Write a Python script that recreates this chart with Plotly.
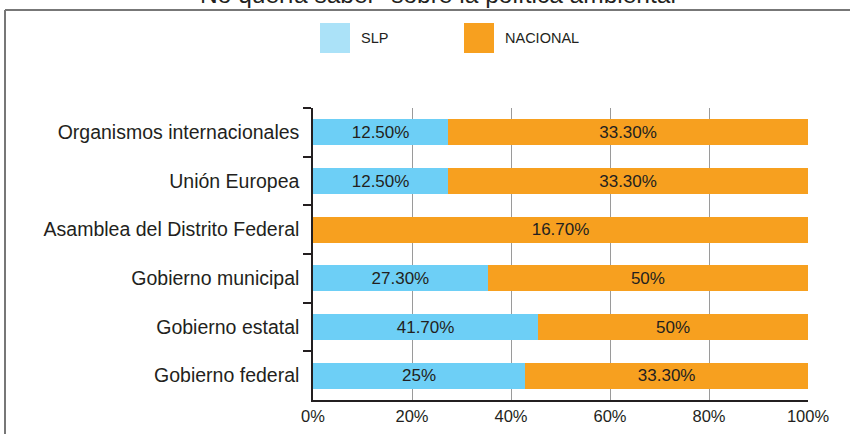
import plotly.graph_objects as go

categories = ["Organismos internacionales", "Unión Europea", "Asamblea del Distrito Federal",
              "Gobierno municipal", "Gobierno estatal", "Gobierno federal"]
slp = [12.5, 12.5, 0, 27.3, 41.7, 25]
nacional = [33.3, 33.3, 16.7, 50, 50, 33.3]
tick_vals = [0, 20, 40, 60, 80, 100]
tick_text = ["0%", "20%", "40%", "60%", "80%", "100%"]
title_text = 'No quería saber" sobre la política ambiental'


def fmt(v):
    if v == 0:
        return ""
    if float(v).is_integer():
        return f"{int(v)}%"
    return f"{v:.2f}%"


FONT = "Liberation Sans, Arial, Helvetica, sans-serif"
SLP_C = "#6dcff6"
NAC_C = "#f7a01f"
TXT = "#231f20"

fig = go.Figure()
fig.add_trace(go.Bar(y=categories, x=slp, orientation="h", name="SLP",
                     marker=dict(color=SLP_C, line=dict(width=0)),
                     text=[fmt(v) for v in slp], textposition="inside",
                     insidetextanchor="middle", constraintext="none",
                     textfont=dict(family=FONT, size=17, color=TXT)))
fig.add_trace(go.Bar(y=categories, x=nacional, orientation="h", name="NACIONAL",
                     marker=dict(color=NAC_C, line=dict(width=0)),
                     text=[fmt(v) for v in nacional], textposition="inside",
                     insidetextanchor="middle", constraintext="none",
                     textfont=dict(family=FONT, size=17, color=TXT)))

L, R, T, B = 313, 42, 108, 34
W, H = 850, 434
pw, ph = W - L - R, H - T - B


def px(x):
    return (x - L) / pw


def py(y):
    return (H - B - y) / ph


shapes = [
    # frame
    dict(type="line", xref="paper", yref="paper", x0=px(5), x1=px(851), y0=py(10), y1=py(10),
         line=dict(color="#777777", width=2)),
    dict(type="line", xref="paper", yref="paper", x0=px(5), x1=px(5), y0=py(10), y1=py(440),
         line=dict(color="#777777", width=2)),
    # legend swatches
    dict(type="rect", xref="paper", yref="paper", x0=px(320), x1=px(350), y0=py(53), y1=py(23),
         fillcolor="#abe2f8", line=dict(width=0)),
    dict(type="rect", xref="paper", yref="paper", x0=px(464), x1=px(494), y0=py(53), y1=py(23),
         fillcolor=NAC_C, line=dict(width=0)),
]
annotations = [
    dict(xref="paper", yref="paper", x=px(359), y=py(38), text="SLP", showarrow=False,
         xanchor="left", yanchor="middle", font=dict(family=FONT, size=14.5, color=TXT)),
    dict(xref="paper", yref="paper", x=px(503), y=py(38), text="NACIONAL", showarrow=False,
         xanchor="left", yanchor="middle", font=dict(family=FONT, size=14.5, color=TXT)),
    dict(xref="paper", yref="paper", x=px(438), y=py(-5), text=title_text, showarrow=False,
         xanchor="center", yanchor="middle", font=dict(family=FONT, size=24.5, color=TXT)),
]

fig.update_layout(
    width=W, height=H,
    margin=dict(l=L, r=R, t=T, b=B, pad=0, autoexpand=False),
    barmode="stack", barnorm="percent", bargap=0.47,
    showlegend=False,
    plot_bgcolor="white", paper_bgcolor="white",
    shapes=shapes, annotations=annotations,
    xaxis=dict(range=[0, 100], tickvals=tick_vals, ticktext=tick_text,
               showgrid=True, gridcolor="#9a9a9a", gridwidth=1,
               showline=True, linecolor="#231f20", linewidth=1.5,
               ticks="", zeroline=False, fixedrange=True, automargin=False,
               tickfont=dict(family=FONT, size=16.5, color=TXT)),
    yaxis=dict(autorange="reversed", showline=True, linecolor="#231f20", linewidth=1.5,
               ticks="outside", tickson="boundaries", ticklen=8, tickcolor="#231f20",
               tickwidth=1.5, showgrid=False, ticklabelstandoff=8, automargin=False,
               fixedrange=True, tickfont=dict(family=FONT, size=19.5, color=TXT)),
)

fig.write_html("out.html", config={"displayModeBar": False},
               post_script="document.body.style.margin='0';")
